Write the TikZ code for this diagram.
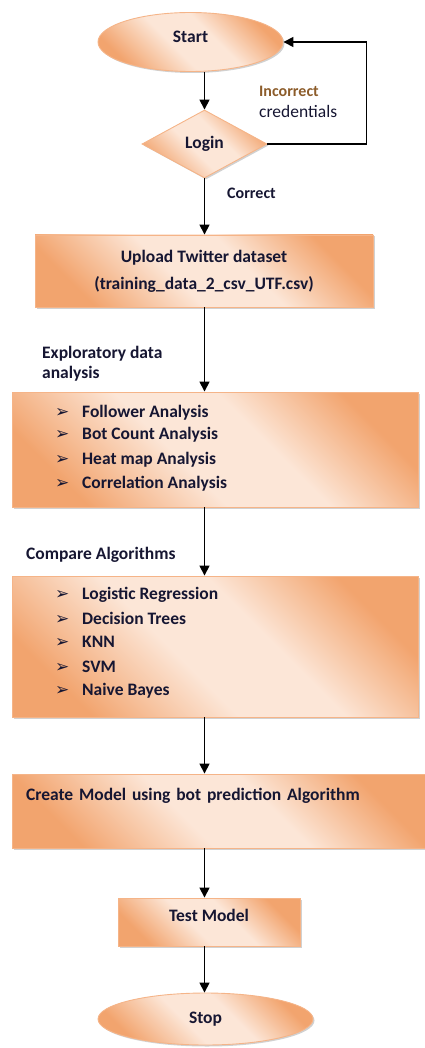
\documentclass[tikz,border=0pt]{standalone}
\usepackage{fontspec}
\setmainfont{Carlito}
\newfontfamily\dingfont{DejaVu Sans}
\usetikzlibrary{shapes.geometric,arrows.meta,shadows}

\definecolor{peachD}{RGB}{242,164,110}
\definecolor{peachL}{RGB}{252,230,215}
\definecolor{edgeC}{RGB}{245,180,136}
\definecolor{inkC}{RGB}{22,22,50}
\definecolor{warnC}{RGB}{140,92,42}

\pgfdeclarehorizontalshading{peachy}{100bp}{color(0bp)=(peachD); color(25bp)=(peachD); color(44bp)=(peachL); color(58bp)=(peachL); color(75bp)=(peachD); color(100bp)=(peachD)}

\newcommand\flowfont{\fontsize{17.5}{21}\selectfont\bfseries}
\newcommand\smallflow{\fontsize{16}{19}\selectfont\bfseries}
\newcommand\bul{\makebox[27pt][l]{\dingfont\fontsize{17}{17}\selectfont ➢}}

\tikzset{
  base/.style={draw=edgeC, line width=0.9pt, shading=peachy, shading angle=45,
    drop shadow={shadow xshift=1.5pt, shadow yshift=-1.5pt, opacity=0.3, fill=black!60},
    font=\flowfont, text=inkC},
  oval/.style={base, ellipse, inner sep=0pt},
  decision/.style={base, diamond, inner sep=0pt, aspect=1.84},
  stepbox/.style={base, rectangle, inner sep=0pt},
  arr/.style={-{Triangle[length=10pt,width=10pt]}, line width=1.6pt, black},
  note/.style={font=\flowfont, text=inkC, inner sep=0pt},
  item/.style={note, anchor=base west},
}

\begin{document}
\begin{tikzpicture}[x=1pt,y=-1pt]
\useasboundingbox (0,0) rectangle (425,1048);

% terminals, decision and process boxes
\node[oval, minimum width=185pt, minimum height=59pt, text height=12.5pt, text depth=10.5pt] (start) at (190.5,42) {Start};
\node[decision, minimum width=125pt, minimum height=68pt] (login) at (204.5,144) {Login};
\node[stepbox, minimum width=338pt, minimum height=72pt, align=center] (upload) at (204,271)
  {Upload Twitter dataset\\[6pt](training\_data\_2\_csv\_UTF.csv)};
\node[stepbox, minimum width=406pt, minimum height=115pt] (eda) at (215,449.5) {};
\node[stepbox, minimum width=406pt, minimum height=141pt] (algo) at (215,646.5) {};
\node[stepbox, minimum height=74pt, text width=387pt, inner xsep=14pt, align=left,
  text height=12.5pt, text depth=33pt] (create) at (219.5,811)
  {Create Model using bot prediction Algorithm};
\node[stepbox, minimum width=182pt, minimum height=48pt, text height=12.5pt, text depth=14.5pt] (test) at (209,922) {Test Model};
\node[oval, minimum width=215pt, minimum height=52pt] (stop) at (205.5,1019) {Stop};

% bullet lists
\foreach \t/\y [count=\i] in {Follower Analysis/417, Bot Count Analysis/439,
    Heat map Analysis/464, Correlation Analysis/488}
  \node[item] (edaitem\i) at (55,\y) {\bul\t};
\foreach \t/\y [count=\i] in {Logistic Regression/599, Decision Trees/624,
    KNN/647, SVM/672, Naive Bayes/695}
  \node[item] (algoitem\i) at (55,\y) {\bul\t};

% labels
\node[note, anchor=base west, font=\smallflow, text=warnC] (incorrect) at (259,97) {Incorrect};
\node[note, anchor=base west, font=\fontsize{17.5}{21}\selectfont] (cred) at (259,118) {credentials};
\node[note, anchor=base west, font=\smallflow] (correct) at (227,198.5) {Correct};
\node[note, anchor=west, align=left, font=\fontsize{17.5}{20}\selectfont\bfseries] (edalabel) at (42,363.5)
  {Exploratory data\\analysis};
\node[note, anchor=base west] (cmplabel) at (26,559) {Compare Algorithms};

% connectors
\draw[arr] (start.south -| login.north) -- (login.north);
\draw[arr] (login.east) -- ++(99,0) |- (start.east);
\draw[arr] (login.south) -- (login.south |- upload.north);
\draw[arr] (upload.south -| login.south) -- (login.south |- eda.north);
\draw[arr] (eda.south -| login.south) -- (login.south |- algo.north);
\draw[arr] (algo.south -| login.south) -- (login.south |- create.north);
\draw[arr] (create.south -| login.south) -- (login.south |- test.north);
\draw[arr] (test.south -| login.south) -- (login.south |- stop.north);
\end{tikzpicture}
\end{document}
